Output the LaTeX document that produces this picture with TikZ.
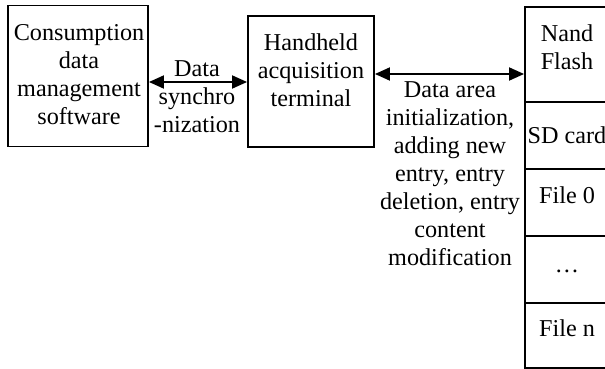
\documentclass[tikz,border=0pt]{standalone}
\usepackage{fontspec}
\setmainfont{Liberation Serif}
\usetikzlibrary{arrows.meta}
\begin{document}
\begin{tikzpicture}[x=1pt,y=-1pt,
  box/.style={draw, line width=1.9pt, rectangle, inner sep=0pt},
  txt/.style={align=center, inner sep=0pt, font=\fontsize{24.2}{28}\selectfont},
  conn/.style={line width=1.9pt, {Triangle[length=15pt,width=13pt]}-{Triangle[length=15pt,width=13pt]}}]
\useasboundingbox (0,0) rectangle (605,369);
\clip (0,0) rectangle (605,369);
% boxes
\node[box, minimum width=140, minimum height=141] (cons) at (78,76) {};
\node[box, minimum width=126, minimum height=131] (hand) at (311,81.5) {};
\node[box, minimum width=84, minimum height=95] (nand) at (567,54.5) {};
\node[box, minimum width=84, minimum height=67] (sd) at (567,135.5) {};
\node[box, minimum width=84, minimum height=67] (f0) at (567,202.5) {};
\node[box, minimum width=84, minimum height=67] (dots) at (567,269.5) {};
\node[box, minimum width=84, minimum height=65] (fn) at (567,335.5) {};
% texts
\node[txt] (tcons) at (79,75) {Consumption\\data\\management\\software};
\node[txt] (thand) at (311,70) {Handheld\\acquisition\\terminal};
\node[txt] (tsync) at (197,97) {Data\\synchro\\-nization};
\node[txt] (tops) at (450,174) {Data area\\initialization,\\adding new\\entry, entry\\deletion, entry\\content\\modification};
\node[txt] (tnand) at (567,47) {Nand\\Flash};
\node[txt] (tsd) at (567,135) {SD card};
\node[txt] (tf0) at (567,195) {File 0};
\node[txt] (tdots) at (567,271) {\dots};
\node[txt] (tfn) at (567,328) {File n};
% connectors
\draw[conn] (cons.east |- 0,82) -- (hand.west |- 0,82);
\draw[conn] (hand.east |- 0,74) -- (nand.west |- 0,74);
\end{tikzpicture}
\end{document}
